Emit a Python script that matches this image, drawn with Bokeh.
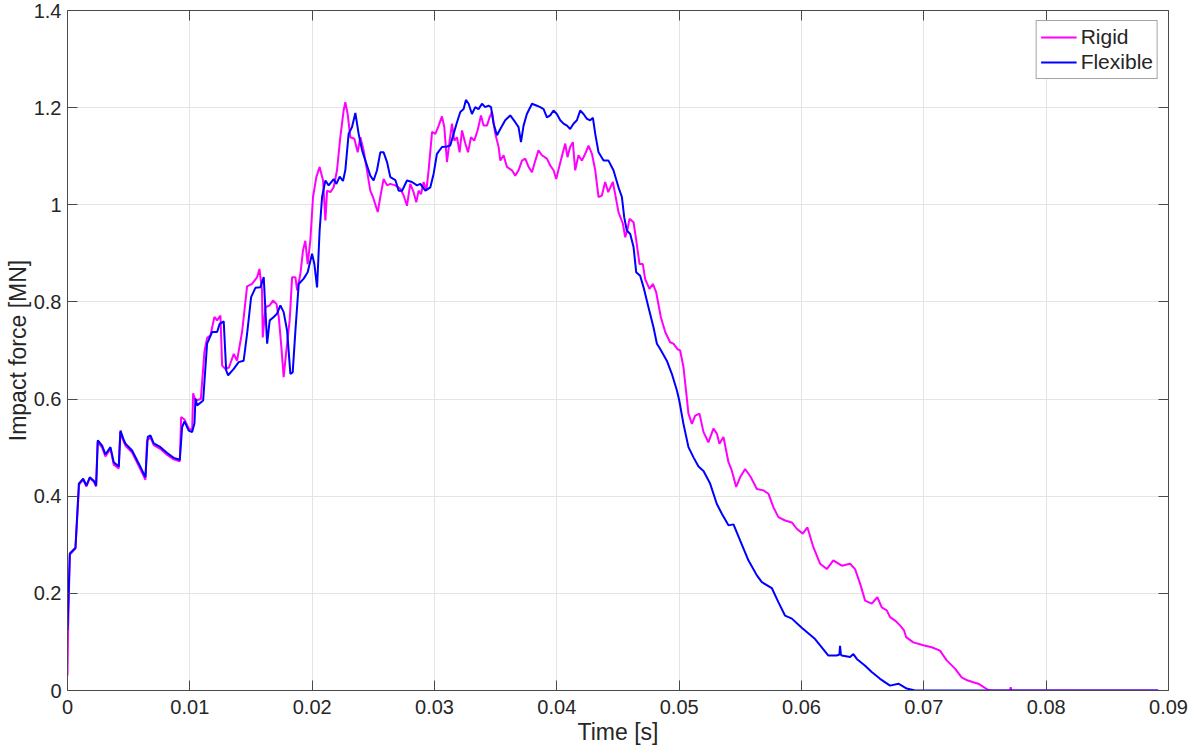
from bokeh.plotting import figure
from bokeh.models import (Legend, LegendItem, LinearAxis, FixedTicker, Range1d,
                          ColumnDataSource, CustomJSTickFormatter)
from bokeh.embed import file_html
from bokeh.resources import INLINE

# ---- data (time in ms, force in MN) ----
flex_t_ms = [0.0, 0.19, 0.65, 0.93, 1.28, 1.55, 1.82, 2.15, 2.34, 2.48, 2.83, 3.10, 3.51, 3.78,
             4.19, 4.33, 4.55, 4.74, 5.28, 5.83, 6.37, 6.56, 6.78, 7.05, 7.60, 8.15, 8.69, 9.18,
             9.37, 9.56, 9.91, 10.19, 10.38, 10.46, 10.60, 11.09, 11.41, 11.82, 12.23, 12.44,
             12.77, 12.97, 13.13, 13.59, 13.99, 14.40, 14.68, 15.01, 15.36, 15.77, 16.04, 16.32,
             16.53, 16.86, 17.13, 17.40, 17.67, 17.95, 18.22, 18.41, 18.63, 18.90, 19.31, 19.63,
             19.99, 20.18, 20.40, 20.61, 20.81, 21.08, 21.35, 21.76, 21.98, 22.25, 22.52, 22.71,
             22.98, 23.26, 23.53, 23.80, 24.08, 24.35, 24.75, 25.02, 25.30, 25.57, 25.84, 26.12,
             26.39, 26.80, 27.07, 27.35, 27.75, 28.16, 28.57, 28.84, 29.25, 29.66, 29.93, 30.20,
             30.61, 31.02, 31.29, 31.56, 31.84, 32.11, 32.38, 32.57, 32.79, 33.06, 33.33, 33.60,
             33.88, 34.15, 34.42, 34.62, 34.83, 35.11, 35.38, 35.78, 36.19, 36.60, 36.87, 37.07,
             37.28, 37.55, 37.97, 38.37, 38.64, 38.92, 39.19, 39.46, 39.73, 40.00, 40.28, 40.55,
             40.83, 41.09, 41.36, 41.64, 41.91, 42.18, 42.46, 42.73, 42.95, 43.14, 43.41, 43.82,
             44.22, 44.63, 45.04, 45.32, 45.51, 45.72, 46.00, 46.27, 46.49, 46.81, 47.09, 47.49,
             47.90, 48.18, 48.45, 48.99, 49.40, 49.81, 50.00, 50.35, 50.76, 51.17, 51.58, 51.99,
             52.53, 53.08, 53.49, 54.03, 54.44, 54.98, 55.66, 56.35, 56.76, 57.57, 58.11, 58.66,
             59.21, 60.02, 61.11, 62.20, 62.88, 63.10, 63.15, 63.22, 63.29, 63.97, 64.24, 64.52,
             65.20, 65.74, 66.42, 67.24, 67.92, 68.60, 69.28, 70.00, 89.16]
flex_f = [0.124, 0.282, 0.294, 0.426, 0.436, 0.422, 0.439, 0.432, 0.422, 0.515, 0.504, 0.486, 0.501, 0.470,
          0.461, 0.535, 0.519, 0.508, 0.494, 0.467, 0.439, 0.522, 0.525, 0.509, 0.501, 0.489, 0.479, 0.475,
          0.542, 0.554, 0.535, 0.532, 0.550, 0.601, 0.587, 0.597, 0.714, 0.738, 0.738, 0.755,
          0.760, 0.659, 0.649, 0.662, 0.676, 0.679, 0.734, 0.810, 0.829, 0.830, 0.851, 0.714,
          0.762, 0.769, 0.776, 0.793, 0.779, 0.741, 0.652, 0.655, 0.741, 0.837, 0.848, 0.861,
          0.899, 0.878, 0.830, 0.947, 1.016, 1.050, 1.040, 1.053, 1.043, 1.058, 1.049, 1.071,
          1.146, 1.160, 1.189, 1.146, 1.112, 1.091, 1.060, 1.050, 1.071, 1.108, 1.108, 1.088,
          1.057, 1.051, 1.029, 1.029, 1.050, 1.047, 1.040, 1.043, 1.029, 1.036, 1.064, 1.105,
          1.119, 1.120, 1.122, 1.146, 1.170, 1.191, 1.197, 1.216, 1.208, 1.187, 1.201, 1.197,
          1.208, 1.201, 1.204, 1.201, 1.167, 1.143, 1.156, 1.174, 1.184, 1.170, 1.160, 1.129,
          1.163, 1.187, 1.208, 1.204, 1.201, 1.197, 1.180, 1.184, 1.194, 1.187, 1.174, 1.167,
          1.163, 1.156, 1.167, 1.174, 1.194, 1.187, 1.177, 1.174, 1.179, 1.146, 1.108, 1.091,
          1.091, 1.071, 1.036, 1.016, 0.974, 0.947, 0.940, 0.913, 0.861, 0.854, 0.830, 0.789,
          0.748, 0.714, 0.703, 0.679, 0.652, 0.618, 0.598, 0.549, 0.501, 0.480, 0.461, 0.452,
          0.426, 0.384, 0.364, 0.340, 0.342, 0.309, 0.268, 0.237, 0.223, 0.211, 0.182, 0.154,
          0.148, 0.129, 0.106, 0.072, 0.072, 0.074, 0.092, 0.074, 0.072, 0.069, 0.075, 0.065,
          0.051, 0.038, 0.024, 0.010, 0.014, 0.004, 0.0, 0.0, 0.0]

rigid_t_ms = [0.0, 0.05, 0.19, 0.65, 0.95, 1.28, 1.55, 1.82, 2.15, 2.34, 2.46, 2.83, 3.10, 3.51, 3.78,
              4.19, 4.31, 4.55, 4.74, 5.28, 5.83, 6.37, 6.50, 6.78, 7.05, 7.60, 8.15, 8.69, 9.18,
              9.29, 9.56, 9.91, 10.19, 10.27, 10.46, 10.90, 11.19, 11.41, 11.68, 12.01, 12.23,
              12.50, 12.64, 12.91, 13.20, 13.59, 13.86, 14.27, 14.68, 15.09, 15.50, 15.69, 15.90,
              15.96, 16.18, 16.53, 16.80, 17.08, 17.27, 17.46, 17.67, 17.89, 18.16, 18.36, 18.63,
              18.77, 19.04, 19.25, 19.44, 19.63, 19.85, 20.07, 20.34, 20.61, 20.89, 21.08, 21.22,
              21.49, 21.76, 22.03, 22.30, 22.57, 22.71, 22.90, 23.12, 23.45, 23.72, 23.94, 24.21,
              24.48, 24.75, 24.97, 25.36, 25.57, 25.84, 26.12, 26.39, 26.80, 27.21, 27.48, 27.75,
              28.02, 28.29, 28.51, 28.70, 28.90, 29.11, 29.33, 29.52, 29.80, 30.07, 30.34, 30.61,
              30.80, 31.02, 31.24, 31.43, 31.62, 31.84, 32.05, 32.25, 32.52, 32.74, 32.98, 33.25,
              33.52, 33.80, 34.01, 34.29, 34.50, 34.70, 34.97, 35.24, 35.38, 35.65, 35.92, 36.33,
              36.60, 36.87, 37.15, 37.42, 37.69, 37.97, 38.24, 38.50, 38.78, 39.19, 39.46, 39.73,
              39.95, 40.22, 40.50, 40.69, 40.87, 41.09, 41.31, 41.50, 41.77, 42.05, 42.32, 42.59,
              42.87, 43.14, 43.41, 43.68, 43.95, 44.20, 44.58, 44.77, 45.04, 45.40, 45.59, 45.78,
              45.94, 46.27, 46.49, 46.76, 47.03, 47.22, 47.57, 47.85, 48.12, 48.50, 48.86, 49.26,
              49.53, 49.86, 50.08, 50.35, 50.63, 50.76, 51.04, 51.31, 51.66, 51.99, 52.39, 52.80,
              53.08, 53.29, 53.62, 54.03, 54.30, 54.66, 54.98, 55.39, 55.86, 56.35, 56.89, 57.30,
              57.71, 58.11, 58.66, 59.21, 59.61, 60.10, 60.48, 60.97, 61.52, 62.07, 62.60, 63.29,
              63.97, 64.38, 64.79, 65.20, 65.74, 66.20, 66.56, 66.97, 67.24, 67.65, 68.05, 68.38,
              68.55, 69.14, 69.96, 70.64, 71.32, 71.87, 72.55, 73.09, 73.55, 74.04, 74.45, 75.27,
              75.50, 77.05, 77.10, 77.15, 89.16]
rigid_f = [0.031, 0.124, 0.280, 0.292, 0.424, 0.434, 0.420, 0.437, 0.430, 0.420, 0.512, 0.500, 0.482, 0.498, 0.465,
           0.457, 0.532, 0.515, 0.504, 0.490, 0.462, 0.434, 0.515, 0.521, 0.505, 0.497, 0.485, 0.476, 0.472,
           0.563, 0.558, 0.539, 0.537, 0.612, 0.597, 0.600, 0.697, 0.726, 0.731, 0.769, 0.762,
           0.772, 0.669, 0.662, 0.665, 0.693, 0.679, 0.738, 0.832, 0.837, 0.851, 0.868, 0.824,
           0.727, 0.789, 0.793, 0.803, 0.796, 0.769, 0.714, 0.645, 0.700, 0.762, 0.851, 0.851,
           0.824, 0.858, 0.906, 0.926, 0.878, 0.926, 1.016, 1.057, 1.078, 1.050, 0.968, 1.029,
           1.026, 1.036, 1.071, 1.139, 1.194, 1.211, 1.187, 1.139, 1.136, 1.108, 1.139, 1.112,
           1.071, 1.029, 1.016, 0.985, 1.016, 1.053, 1.040, 1.043, 1.040, 1.033, 1.019, 0.998,
           1.043, 1.026, 1.005, 1.029, 1.022, 1.047, 1.029, 1.071, 1.150, 1.146, 1.163, 1.182,
           1.160, 1.088, 1.132, 1.167, 1.132, 1.139, 1.108, 1.153, 1.126, 1.108, 1.139, 1.132,
           1.153, 1.184, 1.163, 1.163, 1.180, 1.191, 1.146, 1.119, 1.091, 1.102, 1.078, 1.071,
           1.060, 1.071, 1.091, 1.095, 1.078, 1.067, 1.091, 1.112, 1.102, 1.095, 1.081, 1.071,
           1.053, 1.081, 1.108, 1.126, 1.098, 1.119, 1.129, 1.071, 1.102, 1.091, 1.105, 1.122,
           1.105, 1.071, 1.016, 1.019, 1.047, 1.026, 1.047, 1.022, 0.985, 0.961, 0.933, 0.950,
           0.971, 0.964, 0.927, 0.878, 0.878, 0.847, 0.827, 0.837, 0.820, 0.769, 0.738, 0.717,
           0.714, 0.703, 0.700, 0.666, 0.601, 0.570, 0.549, 0.566, 0.570, 0.532, 0.511, 0.539,
           0.529, 0.508, 0.522, 0.470, 0.453, 0.419, 0.439, 0.456, 0.439, 0.415, 0.412, 0.405,
           0.377, 0.357, 0.350, 0.346, 0.333, 0.323, 0.336, 0.295, 0.261, 0.250, 0.268, 0.257,
           0.261, 0.250, 0.220, 0.185, 0.179, 0.192, 0.171, 0.165, 0.151, 0.144, 0.134, 0.124,
           0.110, 0.099, 0.093, 0.089, 0.082, 0.062, 0.045, 0.027, 0.021, 0.017, 0.014, 0.001,
           0.0, 0.0, 0.007, 0.0, 0.0]

x_ticks = [0.0, 0.01, 0.02, 0.03, 0.04, 0.05, 0.06, 0.07, 0.08, 0.09]
y_ticks = [0.0, 0.2, 0.4, 0.6, 0.8, 1.0, 1.2, 1.4]
series_names = ["Rigid", "Flexible"]
series_colors = ["#ff00ff", "#0000ff"]

FONT = "Liberation Sans"
AX_COL = "#4a4a4a"
TXT_COL = "#262626"

p = figure(width=1191, height=756, output_backend="svg", toolbar_location=None,
           x_range=Range1d(0, 0.09), y_range=Range1d(0, 1.4),
           min_border_left=67, min_border_right=23, min_border_top=10, min_border_bottom=66,
           background_fill_color="white", border_fill_color="white")
p.outline_line_color = None

fmt = CustomJSTickFormatter(code="return String(Math.round(tick*1000)/1000);")
blank = CustomJSTickFormatter(code="return '';")

p.xaxis.ticker = FixedTicker(ticks=x_ticks)
p.yaxis.ticker = FixedTicker(ticks=y_ticks)
for ax in (p.xaxis[0], p.yaxis[0]):
    ax.formatter = fmt
    ax.major_tick_in = 10
    ax.major_tick_out = 0
    ax.minor_tick_in = 0
    ax.minor_tick_out = 0
    ax.axis_line_color = AX_COL
    ax.major_tick_line_color = AX_COL
    ax.major_label_text_font = FONT
    ax.major_label_text_font_size = "20px"
    ax.major_label_text_color = TXT_COL
    ax.axis_label_text_font = FONT
    ax.axis_label_text_font_size = "23px"
    ax.axis_label_text_font_style = "normal"
    ax.axis_label_text_color = TXT_COL
p.xaxis.axis_label = "Time [s]"
p.yaxis.axis_label = "Impact force [MN]"
p.xaxis.major_label_standoff = 9
p.xaxis.axis_label_standoff = 2
p.yaxis.major_label_standoff = 6
p.yaxis.axis_label_standoff = 0

for loc, tk in (("above", x_ticks), ("right", y_ticks)):
    ax = LinearAxis(ticker=FixedTicker(ticks=tk), formatter=blank,
                    major_tick_in=10, major_tick_out=0, minor_tick_in=0, minor_tick_out=0,
                    major_label_standoff=0, major_label_text_font_size="0px",
                    axis_line_color=AX_COL, major_tick_line_color=AX_COL)
    p.add_layout(ax, loc)

p.xgrid.ticker = FixedTicker(ticks=x_ticks)
p.ygrid.ticker = FixedTicker(ticks=y_ticks)
p.grid.grid_line_color = "#e4e4e4"
p.grid.grid_line_width = 1

src_r = ColumnDataSource(dict(t=[v / 1000 for v in rigid_t_ms], f=rigid_f))
src_f = ColumnDataSource(dict(t=[v / 1000 for v in flex_t_ms], f=flex_f))
r1 = p.line("t", "f", source=src_r, line_color=series_colors[0], line_width=2)
r2 = p.line("t", "f", source=src_f, line_color=series_colors[1], line_width=2)

legend = Legend(items=[LegendItem(label=series_names[0], renderers=[r1]),
                       LegendItem(label=series_names[1], renderers=[r2])],
                location="top_right", margin=10, padding=4, spacing=1,
                glyph_width=36, glyph_height=24, label_height=24, label_standoff=4,
                label_text_font=FONT, label_text_font_size="21px", label_text_color=TXT_COL,
                border_line_color=AX_COL, border_line_width=1,
                background_fill_color="white", background_fill_alpha=1)
p.add_layout(legend)

open("out.html", "w").write(file_html(p, INLINE))
